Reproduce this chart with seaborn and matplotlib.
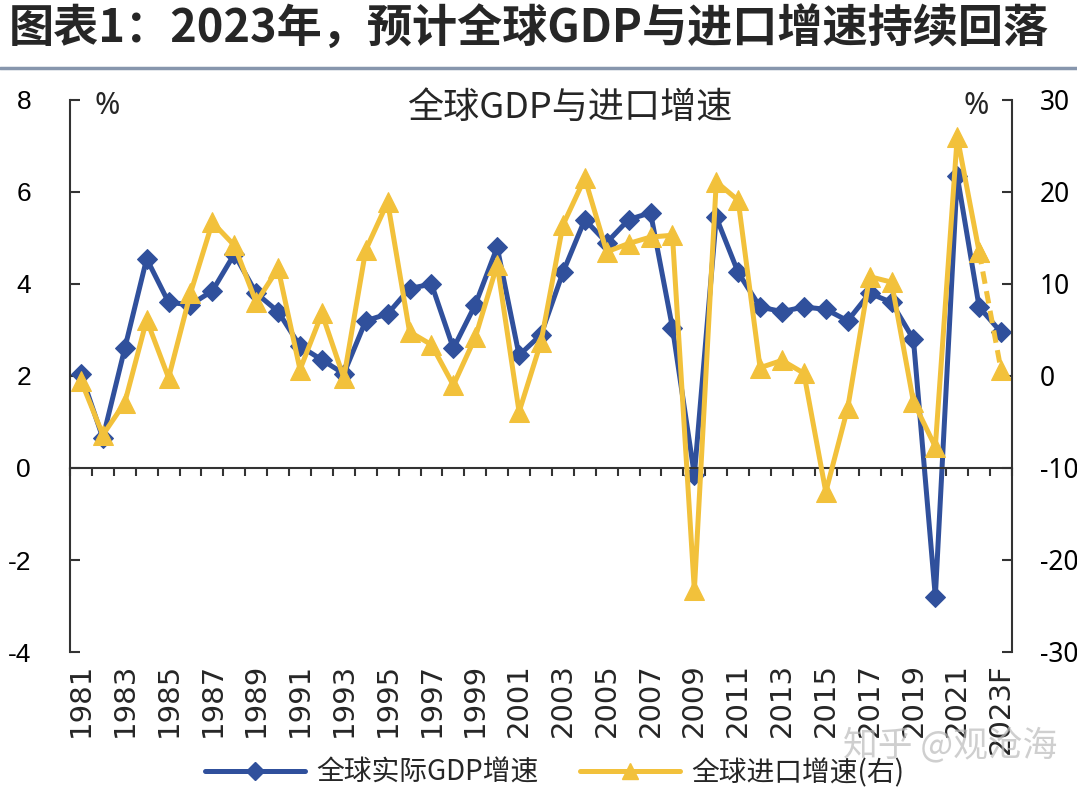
import numpy as np
import pandas as pd
import matplotlib
matplotlib.use("Agg")
import matplotlib.pyplot as plt
import seaborn as sns

sns.set_theme(style="white")
plt.rcParams['font.family'] = ['Liberation Sans', 'Noto Sans CJK SC', 'DejaVu Sans']
plt.rcParams['axes.unicode_minus'] = False

# ---- data ----
years = [str(y) for y in range(1981, 2023)] + ["2023F"]
gdp = [2.05, 0.65, 2.6, 4.55, 3.6, 3.55, 3.85, 4.65, 3.8, 3.4,
       2.65, 2.35, 2.05, 3.2, 3.35, 3.9, 4.0, 2.6, 3.55, 4.8,
       2.45, 2.9, 4.25, 5.4, 4.9, 5.4, 5.55, 3.05, -0.15, 5.45,
       4.25, 3.5, 3.4, 3.5, 3.45, 3.2, 3.8, 3.6, 2.8, -2.8,
       6.35, 3.5, 2.95]
imports = [-0.5, -6.4, -2.9, 6.1, -0.2, 9.0, 16.7, 14.2, 8.0, 11.7,
           0.7, 6.8, -0.2, 13.7, 18.9, 4.8, 3.4, -1.0, 4.2, 12.1,
           -3.9, 3.7, 16.4, 21.5, 13.5, 14.4, 15.1, 15.3, -23.3, 21.1,
           19.1, 0.9, 1.7, 0.3, -12.6, -3.5, 10.8, 10.2, -2.8, -7.7,
           26.0, 13.5, 0.65]

df = pd.DataFrame({'pos': np.arange(len(years)), 'year': years,
                   'gdp': gdp, 'imports': imports})
solid = df.iloc[:-1]
fcst = df.iloc[-2:]

BLUE = '#30509c'
YELLOW = '#f2c13b'
AXC = '#333333'

fig = plt.figure(figsize=(10.77, 7.92), dpi=100)
ax = fig.add_axes([70/1077, 1 - 652/792, 942/1077, 552/792])
ax2 = ax.twinx()

# GDP (left)
sns.lineplot(data=df, x='pos', y='gdp', ax=ax, color=BLUE, lw=3.6,
             marker='D', markersize=10, markeredgecolor=BLUE, legend=False)
# imports (right), last segment dashed
sns.lineplot(data=solid, x='pos', y='imports', ax=ax2, color=YELLOW, lw=3.6,
             marker='^', markersize=14, markeredgecolor=YELLOW, legend=False)
sns.lineplot(data=fcst, x='pos', y='imports', ax=ax2, color=YELLOW, lw=3.6,
             linestyle=(0, (2.5, 1.5)), marker='^', markersize=14,
             markeredgecolor=YELLOW, legend=False)

ax.set_xlim(-0.5, len(years) - 0.5)
ax.set_ylim(-4, 8)
ax2.set_ylim(-30, 30)
ax.set_yticks(np.arange(-4, 9, 2))
ax2.set_yticks(np.arange(-30, 31, 10))
ax.set_xlabel('')
ax.set_ylabel('')
ax2.set_xlabel('')
ax2.set_ylabel('')

# spines
for s in ['top', 'right']:
    ax.spines[s].set_visible(False)
for s in ['top', 'left', 'bottom']:
    ax2.spines[s].set_visible(False)
ax.spines['left'].set_color(AXC)
ax.spines['left'].set_linewidth(1.5)
ax2.spines['right'].set_color(AXC)
ax2.spines['right'].set_linewidth(1.5)
ax.spines['bottom'].set_position(('data', 0))
ax.spines['bottom'].set_color(AXC)
ax.spines['bottom'].set_linewidth(1.5)

ax.set_xticks(np.arange(-0.5, len(years), 1))
ax.tick_params(axis='x', direction='out', length=6, width=1.5, color=AXC,
               labelbottom=False, bottom=True)
ax.tick_params(axis='y', direction='in', length=7, width=1.5, color=AXC,
               pad=28, labelsize=19, labelcolor='black')
ax2.tick_params(axis='y', direction='in', length=7, width=1.5, color=AXC,
                pad=20, labelsize=19, labelcolor='black')
for t in ax2.get_yticklabels():
    t.set_family(['Noto Sans', 'DejaVu Sans'])

# year labels at the bottom
tr = ax.get_xaxis_transform()
for i, y in enumerate(years):
    if i % 2 == 0:
        ax.text(i, -0.02, y, transform=tr, rotation=90, ha='center', va='top',
                fontsize=21, family=['DejaVu Sans'])

# unit marks and inner title
ax.text(0.026, 0.99, '%', transform=ax.transAxes, fontsize=22, ha='left', va='center',
        family=['Noto Sans', 'DejaVu Sans'])
ax.text(0.975, 0.99, '%', transform=ax.transAxes, fontsize=22, ha='right', va='center',
        family=['Noto Sans', 'DejaVu Sans'])
ax.text(0.53, 0.985, '全球GDP与进口增速', transform=ax.transAxes, fontsize=26,
        ha='center', va='center', family=['Noto Sans CJK SC'])

# figure title and rule
fig.text(0.008, 0.962, '图表1：2023年，预计全球GDP与进口增速持续回落',
         fontsize=32.5, fontweight='bold', ha='left', va='center',
         family=['Noto Sans CJK SC'], style='italic')
fig.add_artist(plt.Line2D([0, 1], [1 - 68/792, 1 - 68/792], color='#8796ad', lw=2.5))

# legend
h1 = plt.Line2D([], [], color=BLUE, lw=3.6, marker='D', markersize=9)
h2 = plt.Line2D([], [], color=YELLOW, lw=3.6, marker='^', markersize=11)
fig.legend([h1, h2], ['全球实际GDP增速', '全球进口增速(右)'], loc='center',
           bbox_to_anchor=(0.515, 1 - 773/792), ncol=2, frameon=False,
           prop={'family': ['Noto Sans CJK SC'], 'size': 20},
           handlelength=3.6, columnspacing=1.5, handletextpad=0.4)

# watermark
fig.text(0.882, 1 - 745/792, '知乎 @观沧海', fontsize=25, color='#bbbbbb', alpha=0.7,
         ha='center', va='center', family=['Noto Sans CJK SC'])

fig.savefig('out.png', dpi=100)
